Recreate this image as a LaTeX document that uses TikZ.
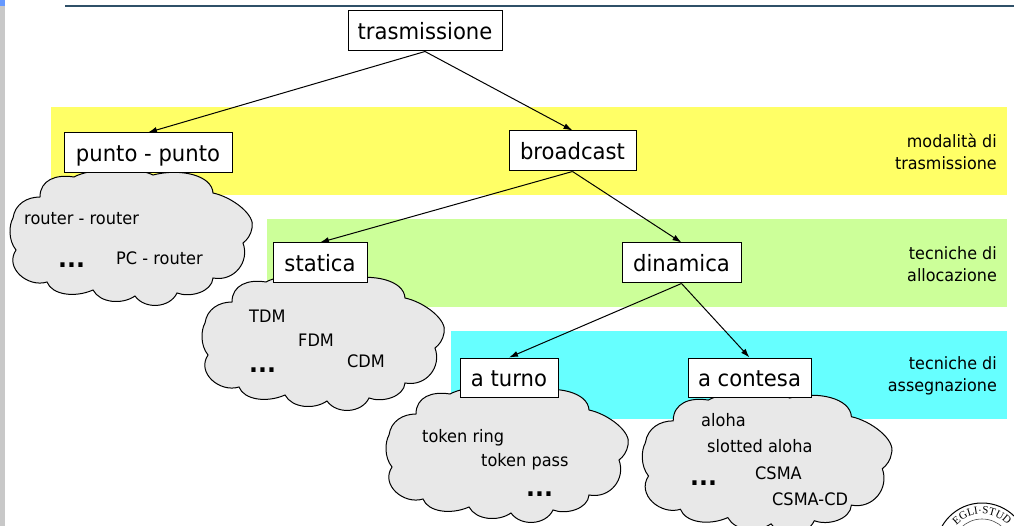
\documentclass[tikz,border=0pt]{standalone}
\usepackage{fontspec}
\setmainfont[FakeStretch=0.94]{DejaVu Sans}
\newfontfamily\logofont{Liberation Serif}
\usetikzlibrary{arrows.meta,decorations.text}
\definecolor{bandY}{HTML}{FFFF66}
\definecolor{bandG}{HTML}{CCFF99}
\definecolor{bandC}{HTML}{66FFFF}
\definecolor{cloudF}{HTML}{E8E8E8}
\definecolor{rule}{HTML}{2F5068}
\definecolor{strip}{HTML}{C8C8C8}
\definecolor{stripB}{HTML}{6699FF}
\tikzset{
  x=1pt,y=-1pt,
  titlebox/.style={draw=black,fill=white,line width=1pt,inner sep=0pt,text height=24pt,text depth=6pt,font=\fontsize{22.5}{26}\selectfont,anchor=center},
  item/.style={inner sep=0pt,font=\fontsize{17.2}{20}\selectfont,anchor=base west},
  dots/.style={inner sep=0pt,font=\fontsize{25}{24}\selectfont\bfseries,anchor=base west},
  side/.style={inner sep=0pt,font=\fontsize{17}{22}\selectfont,align=right,anchor=east},
  link/.style={-{Latex[length=9pt,width=6pt]},line width=1pt,black},
  cloudshape/.style={draw=black,fill=cloudF,line width=1pt}
}
\newcommand{\cloudpath}{%
 (40,197) .. controls (40,180) and (56,174) .. (74,177)
 .. controls (90,168) and (135,166) .. (153,175)
 .. controls (180,168) and (212,175) .. (213,193)
 .. controls (232,197) and (256,215) .. (252,228) .. controls (251,235) and (247,240) .. (243,243)
 .. controls (250,262) and (234,282) .. (213,278)
 .. controls (212,292) and (190,298) .. (177,293)
 .. controls (170,308) and (145,310) .. (135,296)
 .. controls (122,305) and (100,303) .. (93,290)
 .. controls (75,298) and (52,295) .. (47,282)
 .. controls (28,288) and (4,268) .. (16,250)
 .. controls (8,240) and (9,225) .. (13,218)
 .. controls (15,204) and (27,197) .. (40,197) -- cycle}
\begin{document}
\begin{tikzpicture}
\useasboundingbox (0,0) rectangle (1014,526);
\fill[white] (0,0) rectangle (1014,526);
\fill[strip] (0,0) rectangle (5,526);
\fill[stripB] (0,0) rectangle (5,6);
\draw[rule,line width=2pt] (65,6) -- (1014,6);
\fill[bandY] (51,107) rectangle (1007,195);
\fill[bandG] (267,219) rectangle (1007,307);
\fill[bandC] (451,331) rectangle (1007,419);
\node[side] (m1) at (997,152) {modalità di\\trasmissione};
\node[side] (m2) at (997,264) {tecniche di\\allocazione};
\node[side] (m3) at (997,376) {tecniche di\\assegnazione};
\draw[cloudshape] \cloudpath;
\begin{scope}[shift={(192,105)}] \draw[cloudshape] \cloudpath; \end{scope}
\begin{scope}[shift={(376,217)}] \draw[cloudshape] \cloudpath; \end{scope}
\begin{scope}[shift={(632,216)},xscale=1.03,yscale=1.04] \draw[cloudshape] \cloudpath; \end{scope}
\node[titlebox,minimum width=154pt,minimum height=40pt] (tr) at (425,31) {trasmissione};
\node[titlebox,minimum width=168pt,minimum height=40pt] (pp) at (148,153) {punto - punto};
\node[titlebox,minimum width=127pt,minimum height=40pt] (br) at (572.5,151) {broadcast};
\node[titlebox,minimum width=94pt,minimum height=40pt] (st) at (320,263) {statica};
\node[titlebox,minimum width=119pt,minimum height=40pt] (di) at (681.5,263) {dinamica};
\node[titlebox,minimum width=98pt,minimum height=39pt] (at) at (509,377.5) {a turno};
\node[titlebox,minimum width=123pt,minimum height=39pt] (ac) at (749.5,377.5) {a contesa};
\draw[link] (tr.south) -- (pp.north);
\draw[link] (tr.south) -- (br.north);
\draw[link] (br.south) -- (st.north);
\draw[link] (br.south) -- (di.north);
\draw[link] (di.south) -- (at.north);
\draw[link] (di.south) -- (ac.north);
\node[item] (a1) at (24,225) {router - router};
\node[item] (a2) at (116,265) {PC - router};
\node[dots] (a3) at (58,268) {...};
\node[item] (b1) at (249,323) {TDM};
\node[item] (b2) at (298,346) {FDM};
\node[item] (b3) at (347,367) {CDM};
\node[dots] (b4) at (249,372) {...};
\node[item] (c1) at (422,442) {token ring};
\node[item] (c2) at (481,466) {token pass};
\node[dots] (c3) at (526,496) {...};
\node[item] (d1) at (701,426) {aloha};
\node[item] (d2) at (707,452) {slotted aloha};
\node[item] (d3) at (755,479) {CSMA};
\node[item] (d4) at (772,505) {CSMA-CD};
\node[dots] (d5) at (690,485) {...};
\begin{scope}[shift={(982,549)},x=1pt,y=1pt]
\draw[black,line width=1pt] (0,0) circle[radius=46];
\draw[black!70,line width=0.6pt] (0,0) circle[radius=30];
\path[decorate,decoration={text along path,text align=center,text={|\logofont\fontsize{11}{11}\selectfont|EGLI·STUD}}]
  (150:35) arc[start angle=150,end angle=30,radius=35];
\end{scope}
\end{tikzpicture}
\end{document}
